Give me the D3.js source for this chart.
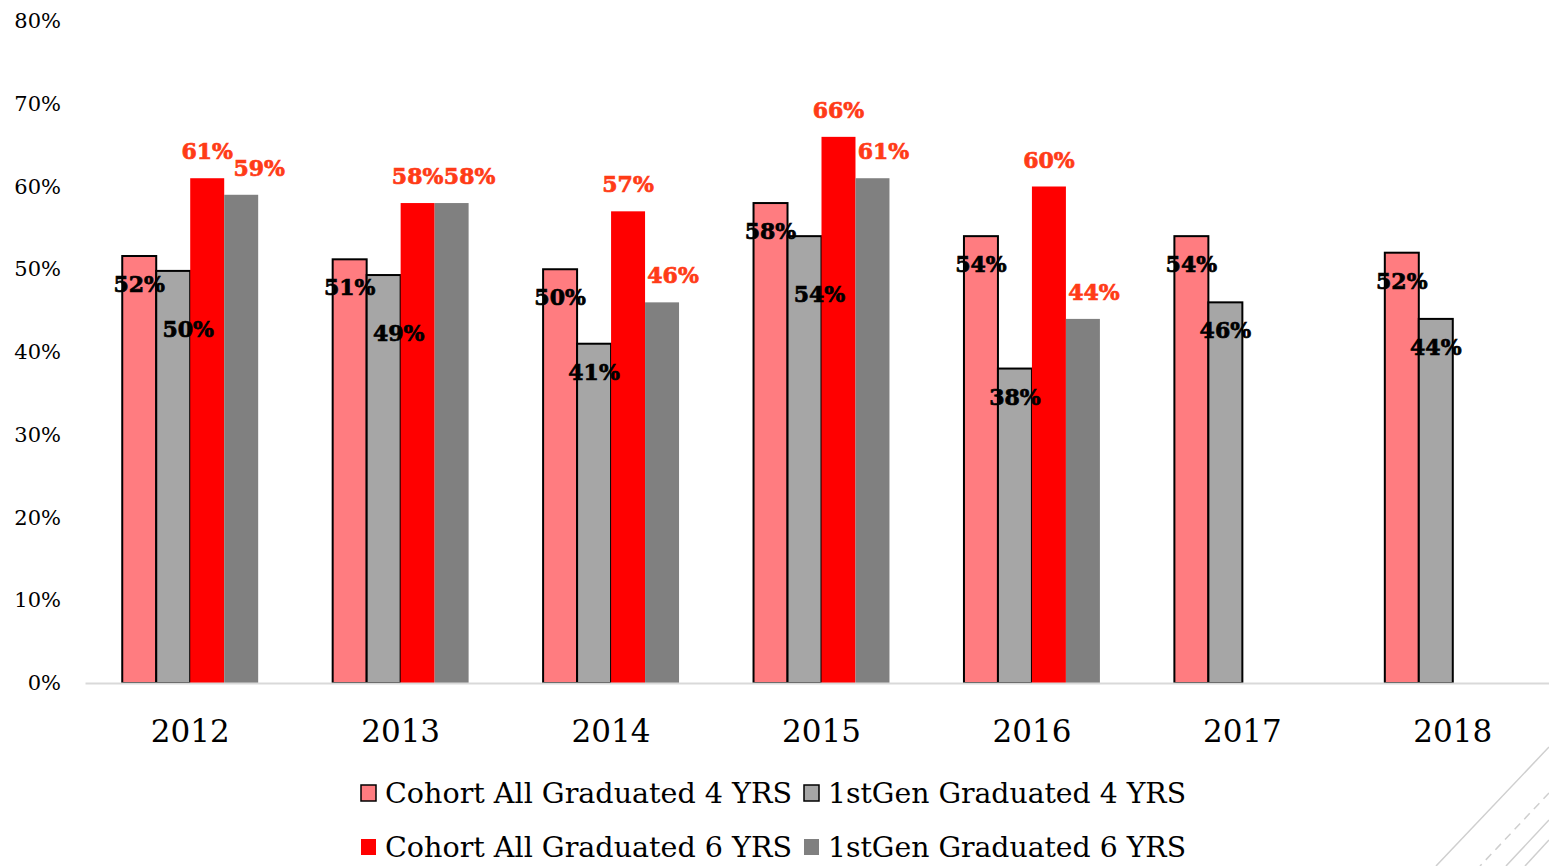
<!DOCTYPE html>
<html>
<head>
<meta charset="utf-8">
<script src="https://cdn.jsdelivr.net/npm/d3@7"></script>
<style>
  body { margin:0; background:#fff; }
  svg { display:block; font-family:"DejaVu Serif", serif; }
</style>
</head>
<body>
<div id="chart"></div>
<script>
const years = ["2012","2013","2014","2015","2016","2017","2018"]
const series = ["Cohort All Graduated 4 YRS","1stGen Graduated 4 YRS","Cohort All Graduated 6 YRS","1stGen Graduated 6 YRS"]
const cohort4 = [0.516, 0.512, 0.50, 0.58, 0.54, 0.54, 0.52]
const gen4 = [0.498, 0.493, 0.41, 0.54, 0.38, 0.46, 0.44]
const cohort6 = [0.61, 0.58, 0.57, 0.66, 0.60, null, null]
const gen6 = [0.59, 0.58, 0.46, 0.61, 0.44, null, null]
const yTicks = [0,0.1,0.2,0.3,0.4,0.5,0.6,0.7,0.8]
const colors = ["#FF7C80","#A6A6A6","#FF0000","#808080"]
const strokes = ["#000","#000","none","none"]

const W = 1549, H = 866
const svg = d3.select("#chart").append("svg").attr("width",W).attr("height",H)

const values = [cohort4, gen4, cohort6, gen6]
const data = years.map((y,i)=>({year:y, vals: values.map((s,k)=>({k:k, v:s[i]}))}))

const x0 = d3.scaleBand().domain(years).range([85,1558])
const bw = x0.bandwidth()
const x1 = d3.scaleBand().domain(d3.range(4)).range([bw*0.177, bw*0.823])
const y = d3.scaleLinear().domain([0,0.8]).range([683,21])

// y axis
const yAxis = d3.axisLeft(y).tickValues(yTicks).tickSize(0).tickPadding(0).tickFormat(d3.format(".0%"))
const yG = svg.append("g").attr("transform","translate(61,0)").call(yAxis)
yG.select(".domain").remove()
yG.selectAll("text").attr("font-size",21).attr("fill","#000").attr("font-family","DejaVu Serif")

// bars
const groups = svg.append("g").selectAll("g").data(data).enter().append("g")
  .attr("transform",d=>`translate(${x0(d.year)},0)`)
groups.selectAll("rect").data(d=>d.vals.filter(e=>e.v!=null)).enter().append("rect")
  .attr("x",e=>x1(e.k))
  .attr("width",x1.bandwidth())
  .attr("y",e=>y(e.v))
  .attr("height",e=>y(0)-y(e.v))
  .attr("fill",e=>colors[e.k])
  .attr("stroke",e=>strokes[e.k])
  .attr("stroke-width",2)

// x axis
const xAxis = d3.axisBottom(x0).tickSize(0).tickPadding(37)
const xG = svg.append("g").attr("transform","translate(0,683)").call(xAxis)
xG.select(".domain").attr("stroke","#d9d9d9").attr("stroke-width",2)
xG.selectAll("text").attr("font-size",31).attr("fill","#000").attr("font-family","DejaVu Serif")

// data labels
const labels = svg.append("g").attr("font-weight","bold").attr("font-size",22).attr("text-anchor","middle").attr("dominant-baseline","central")
data.forEach((d,i)=>{
  const gx = x0(d.year), half = x1.bandwidth()/2
  d.vals.forEach(e=>{
    if (e.v==null) return
    let cx = gx + x1(e.k) + half, cy, col
    if (e.k < 2) {
      col = "#000"
      cy = y(e.v) + 28
      if (e.k==1 && Math.abs(cohort4[i]-gen4[i]) < 0.05) { cy += 30; cx += 15 }
    } else {
      col = "#FF3B17"
      cy = y(e.v) - 27
      if (e.k==3) cx += Math.abs(cohort6[i]-gen6[i]) < 0.03 ? 18 : 11
    }
    labels.append("text").attr("x",cx).attr("y",cy).attr("fill",col)
      .attr("stroke",col).attr("stroke-width",0.7).text(d3.format(".0%")(e.v))
  })
})

// legend
const legPos = [[360,793],[803,793],[360,847],[803,847]]
const leg = svg.append("g")
series.forEach((s,k)=>{
  const [lx,ly] = legPos[k]
  leg.append("rect").attr("x",lx+1).attr("y",ly-8).attr("width",15).attr("height",16)
    .attr("fill",colors[k]).attr("stroke",strokes[k]).attr("stroke-width",1.5)
  leg.append("text").attr("x",lx+25).attr("y",ly).attr("dominant-baseline","central")
    .attr("font-size",28).attr("textLength",k%2==0?407:358).attr("lengthAdjust","spacingAndGlyphs").text(s)
})

// slide decoration bottom right
const deco = svg.append("g").attr("stroke","#cfcfcf").attr("stroke-width",1.5)
deco.append("line").attr("x1",1549).attr("y1",747).attr("x2",1436).attr("y2",866)
deco.append("line").attr("x1",1549).attr("y1",793).attr("x2",1480).attr("y2",866).attr("stroke-dasharray","8,6")
deco.append("line").attr("x1",1549).attr("y1",820).attr("x2",1506).attr("y2",866)
deco.append("line").attr("x1",1549).attr("y1",840).attr("x2",1525).attr("y2",866)
</script>
</body>
</html>
